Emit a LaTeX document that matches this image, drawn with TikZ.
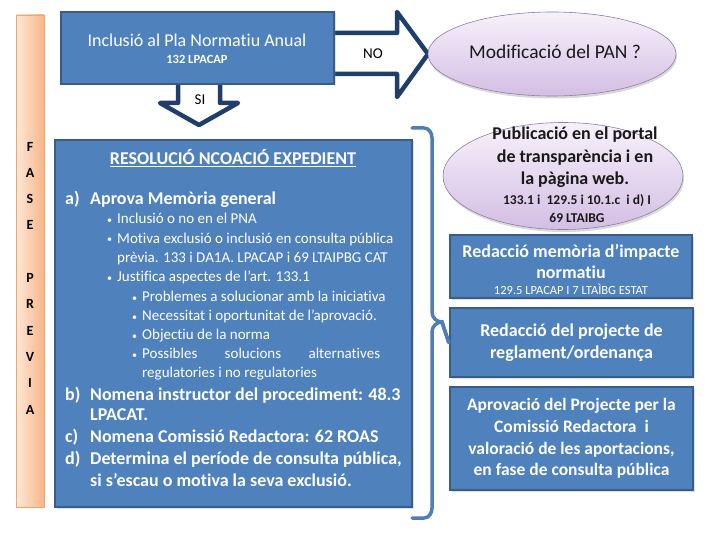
\documentclass[tikz,border=0pt]{standalone}
\usepackage{fontspec}
\setmainfont{Carlito}[Ligatures=NoCommon]
\usetikzlibrary{shapes.geometric,shadows}
\definecolor{boxblue}{HTML}{4F81BD}
\definecolor{boxedge}{HTML}{385D8A}
\definecolor{arrowedge}{HTML}{1F3F6A}
\definecolor{lavtop}{HTML}{F7F1FB}
\definecolor{lavbot}{HTML}{D3BEE4}
\definecolor{lavedge}{HTML}{8E7EA0}
\definecolor{orl}{HTML}{FDE8D6}
\definecolor{orr}{HTML}{F8B589}
\definecolor{oredge}{HTML}{F2A46A}
\definecolor{braceblue}{HTML}{4F7DB8}
\newcommand\fsBig{\fontsize{18}{22}\selectfont}
\newcommand\fsMid{\fontsize{15}{17}\selectfont}
\newcommand\fsSm{\fontsize{12.5}{14}\selectfont}
\begin{document}
\begin{tikzpicture}[x=1pt,y=-1pt,
  bluebox/.style={draw=boxedge, line width=2.5pt, fill=boxblue, text=white, align=center, inner sep=0pt,
    drop shadow={opacity=0.25,shadow xshift=1.5pt,shadow yshift=-1.5pt}},
  lavell/.style={ellipse, draw=lavedge, line width=0.6pt, top color=lavtop, bottom color=lavbot, inner sep=0pt,
    drop shadow={opacity=0.3,shadow xshift=1pt,shadow yshift=-2.5pt}},
  blockarrow/.style={draw=arrowedge, line width=4.5pt, fill=white, line join=round},
  ln/.style={anchor=base west, inner sep=0pt, text=white},
  bul/.style={anchor=base west, inner sep=0pt, text=white, font=\fontsize{10}{11}\selectfont},
  bracepath/.style={draw=braceblue, line width=3.5pt, line cap=round}
]
\useasboundingbox (0,0) rectangle (720,540);

% FASE PREVIA bar
\node[draw=oredge, line width=0.6pt, left color=orl, right color=orr, minimum width=28, minimum height=492, inner sep=0pt] (fase) at (30,261) {};
\node[align=center, inner sep=0pt, font=\fontsize{14}{26.3}\selectfont\bfseries] (faselbl) at (30,278)
  {F\\A\\S\\E\\\mbox{}\\P\\R\\E\\V\\I\\A};

% arrows (drawn before boxes so their tails are covered)
\path[blockarrow] (320,33) -- (397,33) -- (397,12) -- (428,54) -- (397,97) -- (397,74) -- (320,74) -- cycle;
\path[blockarrow] (178,70) -- (220,70) -- (220,103) -- (238,103) -- (199,125) -- (160,103) -- (178,103) -- cycle;
\node[font=\fontsize{15}{16}\selectfont, inner sep=0pt] (nolbl) at (373,54) {NO};
\node[font=\fontsize{15}{16}\selectfont, inner sep=0pt] (silbl) at (200,100) {SI};

% top box
\node[bluebox, minimum width=273, minimum height=72] (pna) at (197.5,48) {};
\node[text=white, inner sep=0pt, font=\fsBig] (pnat) at (197,40) {Inclusió al Pla Normatiu Anual};
\node[text=white, inner sep=0pt, font=\fsSm\bfseries] (pnas) at (197,59) {132 LPACAP};

% top ellipse
\node[lavell, minimum width=248, minimum height=84] (modif) at (552,54) {};
\node[inner sep=0pt, font=\fontsize{19.5}{22}\selectfont, text=black!90] (modift) at (555,52) {Modificació del PAN ?};

% big box
\node[bluebox, minimum width=357, minimum height=367] (res) at (233.5,323.5) {};
\node[text=white, inner sep=0pt, font=\fsBig\bfseries] (rest) at (233,158) {\underline{RESOLUCIÓ NCOACIÓ EXPEDIENT}};

\node[ln, font=\fontsize{18}{20}\selectfont\bfseries] (la) at (65,205) {a)};
\node[ln, font=\fontsize{18}{20}\selectfont\bfseries] (ta) at (90,205) {Aprova Memòria general};
\node[bul] (b1) at (107,223) {•};
\node[ln, font=\fsMid] (t1) at (117,223.5) {Inclusió o no en el PNA};
\node[bul] (b2) at (107,243) {•};
\node[ln, font=\fsMid] (t2) at (117,243.5) {Motiva exclusió o inclusió en consulta pública};
\node[ln, font=\fsMid] (t2b) at (117,262.5) {prèvia. 133 i DA1A. LPACAP i 69 LTAIPBG CAT};
\node[bul] (b3) at (107,281) {•};
\node[ln, font=\fsMid] (t3) at (117,281.5) {Justifica aspectes de l’art. 133.1};
\node[bul] (b4) at (132,301) {•};
\node[ln, font=\fsMid] (t4) at (142,301.5) {Problemes a solucionar amb la iniciativa};
\node[bul] (b5) at (132,320) {•};
\node[ln, font=\fsMid] (t5) at (142,320.5) {Necessitat i oportunitat de l’aprovació.};
\node[bul] (b6) at (132,339) {•};
\node[ln, font=\fsMid] (t6) at (142,339.5) {Objectiu de la norma};
\node[bul] (b7) at (132,358) {•};
\node[ln, font=\fsMid] (t7) at (142,358.5) {\makebox[238pt][s]{Possibles solucions alternatives}};
\node[ln, font=\fsMid] (t7b) at (142,377.5) {regulatories i no regulatories};
\node[ln, font=\fsBig\bfseries] (lb) at (65,400) {b)};
\node[ln, font=\fsBig\bfseries] (tb) at (90,400) {Nomena instructor del procediment: 48.3};
\node[ln, font=\fsBig\bfseries] (tbb) at (90,420) {LPACAT.};
\node[ln, font=\fsBig\bfseries] (lc) at (65,442) {c)};
\node[ln, font=\fsBig\bfseries] (tc) at (90,442) {Nomena Comissió Redactora: 62 ROAS};
\node[ln, font=\fsBig\bfseries] (ld) at (65,464) {d)};
\node[ln, font=\fsBig\bfseries] (td) at (90,464) {Determina el període de consulta pública,};
\node[ln, font=\fsBig\bfseries] (tdb) at (90,486) {si s’escau o motiva la seva exclusió.};

% right column
\node[lavell, minimum width=240, minimum height=107] (publ) at (563,176) {};
\node[align=center, inner sep=0pt, font=\fontsize{18}{22.5}\selectfont\bfseries, text=black!90] (publt) at (575,157.5)
  {Publicació en el portal\\de transparència i en\\la pàgina web.};
\node[align=center, inner sep=0pt, font=\fontsize{13.5}{18}\selectfont\bfseries, text=black!90] (publs) at (577,209)
  {133.1 i \ 129.5 i 10.1.c \ i d) I\\69 LTAIBG};

\node[bluebox, minimum width=242, minimum height=63] (memo) at (571,266.5) {};
\node[align=center, inner sep=0pt, text=white, font=\fontsize{18}{21}\selectfont\bfseries] (memot) at (571,262)
  {Redacció memòria d’impacte\\normatiu};
\node[inner sep=0pt, text=white, font=\fsSm] (memos) at (571,289) {129.5 LPACAP I 7 LTAÌBG ESTAT};

\node[bluebox, minimum width=243, minimum height=69, font=\fontsize{18}{22}\selectfont\bfseries] (proj) at (571.5,342.5)
  {Redacció del projecte de\\reglament/ordenança};

\node[bluebox, minimum width=243, minimum height=103, font=\fontsize{17.5}{21.7}\selectfont\bfseries] (aprov) at (571.5,438.5)
  {Aprovació del Projecte per la\\Comissió Redactora \ i\\valoració de les aportacions,\\en fase de consulta pública};

% brace linking the big box to the right column
\coordinate (bt) at (412,128);
\coordinate (bb) at (412,518);
\path[bracepath] (bt) -- (424,128) to[out=0,in=90] (432,138) -- (432,312) to[out=-90,in=180] (442,322) -- (proj.west);
\path[bracepath] (proj.west) -- (442,322) to[out=180,in=90] (432,332) -- (432,508) to[out=-90,in=0] (424,518) -- (bb);
\end{tikzpicture}
\end{document}
